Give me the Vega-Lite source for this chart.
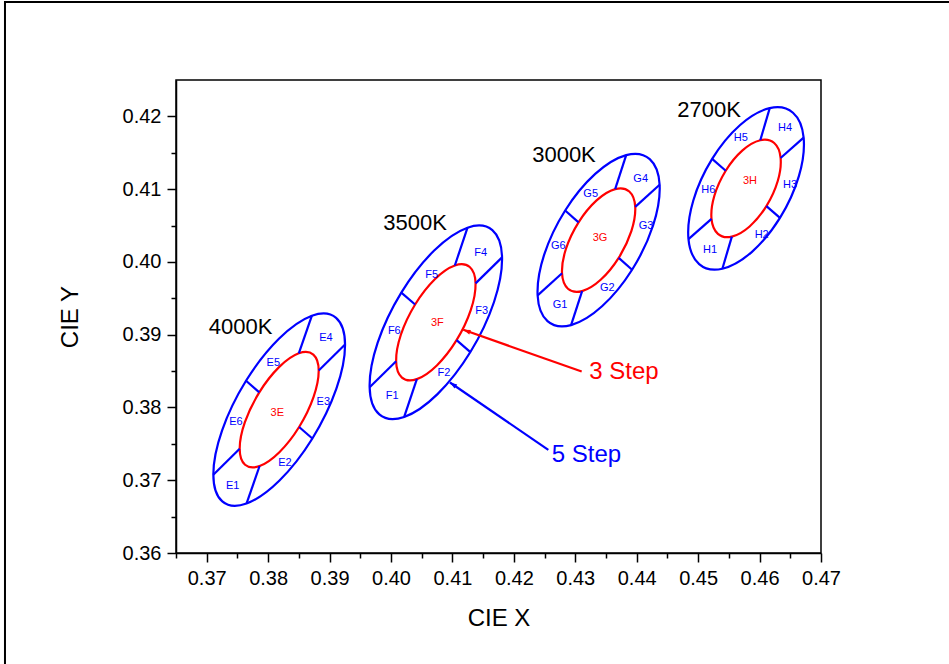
{
  "$schema": "https://vega.github.io/schema/vega-lite/v6.json",
  "autosize": {"type": "none"},
  "padding": {"left": 176, "top": 80, "right": 128, "bottom": 111},
  "width": 645,
  "height": 473,
  "background": "#ffffff",
  "datasets": {
    "ellipses": [
      {"id": "2700K-5", "g": "5", "i": 0, "x": 0.465437, "y": 0.420496},
      {"id": "2700K-5", "g": "5", "i": 1, "x": 0.461654, "y": 0.421131},
      {"id": "2700K-5", "g": "5", "i": 2, "x": 0.456837, "y": 0.418810},
      {"id": "2700K-5", "g": "5", "i": 3, "x": 0.452279, "y": 0.414155},
      {"id": "2700K-5", "g": "5", "i": 4, "x": 0.449201, "y": 0.408414},
      {"id": "2700K-5", "g": "5", "i": 5, "x": 0.448426, "y": 0.403125},
      {"id": "2700K-5", "g": "5", "i": 6, "x": 0.450163, "y": 0.399704},
      {"id": "2700K-5", "g": "5", "i": 7, "x": 0.453946, "y": 0.399069},
      {"id": "2700K-5", "g": "5", "i": 8, "x": 0.458763, "y": 0.401390},
      {"id": "2700K-5", "g": "5", "i": 9, "x": 0.463321, "y": 0.406045},
      {"id": "2700K-5", "g": "5", "i": 10, "x": 0.466399, "y": 0.411786},
      {"id": "2700K-5", "g": "5", "i": 11, "x": 0.467174, "y": 0.417075},
      {"id": "2700K-3", "g": "3", "i": 0, "x": 0.462382, "y": 0.416338},
      {"id": "2700K-3", "g": "3", "i": 1, "x": 0.460112, "y": 0.416719},
      {"id": "2700K-3", "g": "3", "i": 2, "x": 0.457223, "y": 0.415326},
      {"id": "2700K-3", "g": "3", "i": 3, "x": 0.454488, "y": 0.412533},
      {"id": "2700K-3", "g": "3", "i": 4, "x": 0.452641, "y": 0.409088},
      {"id": "2700K-3", "g": "3", "i": 5, "x": 0.452176, "y": 0.405915},
      {"id": "2700K-3", "g": "3", "i": 6, "x": 0.453218, "y": 0.403862},
      {"id": "2700K-3", "g": "3", "i": 7, "x": 0.455488, "y": 0.403481},
      {"id": "2700K-3", "g": "3", "i": 8, "x": 0.458377, "y": 0.404874},
      {"id": "2700K-3", "g": "3", "i": 9, "x": 0.461112, "y": 0.407667},
      {"id": "2700K-3", "g": "3", "i": 10, "x": 0.462959, "y": 0.411112},
      {"id": "2700K-3", "g": "3", "i": 11, "x": 0.463424, "y": 0.414285},
      {"id": "3000K-5", "g": "5", "i": 0, "x": 0.442122, "y": 0.414133},
      {"id": "3000K-5", "g": "5", "i": 1, "x": 0.438284, "y": 0.414677},
      {"id": "3000K-5", "g": "5", "i": 2, "x": 0.433245, "y": 0.412091},
      {"id": "3000K-5", "g": "5", "i": 3, "x": 0.428354, "y": 0.407071},
      {"id": "3000K-5", "g": "5", "i": 4, "x": 0.424923, "y": 0.400959},
      {"id": "3000K-5", "g": "5", "i": 5, "x": 0.423870, "y": 0.395395},
      {"id": "3000K-5", "g": "5", "i": 6, "x": 0.425478, "y": 0.391867},
      {"id": "3000K-5", "g": "5", "i": 7, "x": 0.429316, "y": 0.391323},
      {"id": "3000K-5", "g": "5", "i": 8, "x": 0.434355, "y": 0.393909},
      {"id": "3000K-5", "g": "5", "i": 9, "x": 0.439246, "y": 0.398929},
      {"id": "3000K-5", "g": "5", "i": 10, "x": 0.442677, "y": 0.405041},
      {"id": "3000K-5", "g": "5", "i": 11, "x": 0.443730, "y": 0.410605},
      {"id": "3000K-3", "g": "3", "i": 0, "x": 0.438793, "y": 0.409680},
      {"id": "3000K-3", "g": "3", "i": 1, "x": 0.436490, "y": 0.410007},
      {"id": "3000K-3", "g": "3", "i": 2, "x": 0.433467, "y": 0.408456},
      {"id": "3000K-3", "g": "3", "i": 3, "x": 0.430532, "y": 0.405443},
      {"id": "3000K-3", "g": "3", "i": 4, "x": 0.428473, "y": 0.401776},
      {"id": "3000K-3", "g": "3", "i": 5, "x": 0.427842, "y": 0.398437},
      {"id": "3000K-3", "g": "3", "i": 6, "x": 0.428807, "y": 0.396320},
      {"id": "3000K-3", "g": "3", "i": 7, "x": 0.431110, "y": 0.395993},
      {"id": "3000K-3", "g": "3", "i": 8, "x": 0.434133, "y": 0.397544},
      {"id": "3000K-3", "g": "3", "i": 9, "x": 0.437068, "y": 0.400557},
      {"id": "3000K-3", "g": "3", "i": 10, "x": 0.439127, "y": 0.404224},
      {"id": "3000K-3", "g": "3", "i": 11, "x": 0.439758, "y": 0.407563},
      {"id": "3500K-5", "g": "5", "i": 0, "x": 0.416499, "y": 0.404361},
      {"id": "3500K-5", "g": "5", "i": 1, "x": 0.412454, "y": 0.404707},
      {"id": "3500K-5", "g": "5", "i": 2, "x": 0.407030, "y": 0.401569},
      {"id": "3500K-5", "g": "5", "i": 3, "x": 0.401677, "y": 0.395785},
      {"id": "3500K-5", "g": "5", "i": 4, "x": 0.397830, "y": 0.388907},
      {"id": "3500K-5", "g": "5", "i": 5, "x": 0.396522, "y": 0.382779},
      {"id": "3500K-5", "g": "5", "i": 6, "x": 0.398101, "y": 0.379039},
      {"id": "3500K-5", "g": "5", "i": 7, "x": 0.402146, "y": 0.378693},
      {"id": "3500K-5", "g": "5", "i": 8, "x": 0.407570, "y": 0.381831},
      {"id": "3500K-5", "g": "5", "i": 9, "x": 0.412923, "y": 0.387615},
      {"id": "3500K-5", "g": "5", "i": 10, "x": 0.416770, "y": 0.394493},
      {"id": "3500K-5", "g": "5", "i": 11, "x": 0.418078, "y": 0.400621},
      {"id": "3500K-3", "g": "3", "i": 0, "x": 0.412819, "y": 0.399297},
      {"id": "3500K-3", "g": "3", "i": 1, "x": 0.410392, "y": 0.399505},
      {"id": "3500K-3", "g": "3", "i": 2, "x": 0.407138, "y": 0.397622},
      {"id": "3500K-3", "g": "3", "i": 3, "x": 0.403926, "y": 0.394151},
      {"id": "3500K-3", "g": "3", "i": 4, "x": 0.401618, "y": 0.390024},
      {"id": "3500K-3", "g": "3", "i": 5, "x": 0.400834, "y": 0.386347},
      {"id": "3500K-3", "g": "3", "i": 6, "x": 0.401781, "y": 0.384103},
      {"id": "3500K-3", "g": "3", "i": 7, "x": 0.404208, "y": 0.383895},
      {"id": "3500K-3", "g": "3", "i": 8, "x": 0.407462, "y": 0.385778},
      {"id": "3500K-3", "g": "3", "i": 9, "x": 0.410674, "y": 0.389249},
      {"id": "3500K-3", "g": "3", "i": 10, "x": 0.412982, "y": 0.393376},
      {"id": "3500K-3", "g": "3", "i": 11, "x": 0.413766, "y": 0.397053},
      {"id": "4000K-5", "g": "5", "i": 0, "x": 0.391061, "y": 0.392316},
      {"id": "4000K-5", "g": "5", "i": 1, "x": 0.387120, "y": 0.392607},
      {"id": "4000K-5", "g": "5", "i": 2, "x": 0.381753, "y": 0.389442},
      {"id": "4000K-5", "g": "5", "i": 3, "x": 0.376399, "y": 0.383665},
      {"id": "4000K-5", "g": "5", "i": 4, "x": 0.372493, "y": 0.376826},
      {"id": "4000K-5", "g": "5", "i": 5, "x": 0.371080, "y": 0.370757},
      {"id": "4000K-5", "g": "5", "i": 6, "x": 0.372539, "y": 0.367084},
      {"id": "4000K-5", "g": "5", "i": 7, "x": 0.376480, "y": 0.366793},
      {"id": "4000K-5", "g": "5", "i": 8, "x": 0.381847, "y": 0.369958},
      {"id": "4000K-5", "g": "5", "i": 9, "x": 0.387201, "y": 0.375735},
      {"id": "4000K-5", "g": "5", "i": 10, "x": 0.391107, "y": 0.382574},
      {"id": "4000K-5", "g": "5", "i": 11, "x": 0.392520, "y": 0.388643},
      {"id": "4000K-3", "g": "3", "i": 0, "x": 0.387357, "y": 0.387270},
      {"id": "4000K-3", "g": "3", "i": 1, "x": 0.384992, "y": 0.387445},
      {"id": "4000K-3", "g": "3", "i": 2, "x": 0.381772, "y": 0.385545},
      {"id": "4000K-3", "g": "3", "i": 3, "x": 0.378559, "y": 0.382079},
      {"id": "4000K-3", "g": "3", "i": 4, "x": 0.376216, "y": 0.377975},
      {"id": "4000K-3", "g": "3", "i": 5, "x": 0.375368, "y": 0.374333},
      {"id": "4000K-3", "g": "3", "i": 6, "x": 0.376243, "y": 0.372130},
      {"id": "4000K-3", "g": "3", "i": 7, "x": 0.378608, "y": 0.371955},
      {"id": "4000K-3", "g": "3", "i": 8, "x": 0.381828, "y": 0.373855},
      {"id": "4000K-3", "g": "3", "i": 9, "x": 0.385041, "y": 0.377321},
      {"id": "4000K-3", "g": "3", "i": 10, "x": 0.387384, "y": 0.381425},
      {"id": "4000K-3", "g": "3", "i": 11, "x": 0.388232, "y": 0.385067}
    ],
    "dividers": [
      {"c": "2700K", "x": 0.460112, "y": 0.416719, "x2": 0.461654, "y2": 0.421131},
      {"c": "2700K", "x": 0.454488, "y": 0.412533, "x2": 0.452279, "y2": 0.414155},
      {"c": "2700K", "x": 0.452176, "y": 0.405915, "x2": 0.448426, "y2": 0.403125},
      {"c": "2700K", "x": 0.455488, "y": 0.403481, "x2": 0.453946, "y2": 0.399069},
      {"c": "2700K", "x": 0.461112, "y": 0.407667, "x2": 0.463321, "y2": 0.406045},
      {"c": "2700K", "x": 0.463424, "y": 0.414285, "x2": 0.467174, "y2": 0.417075},
      {"c": "3000K", "x": 0.436490, "y": 0.410007, "x2": 0.438284, "y2": 0.414677},
      {"c": "3000K", "x": 0.430532, "y": 0.405443, "x2": 0.428354, "y2": 0.407071},
      {"c": "3000K", "x": 0.427842, "y": 0.398437, "x2": 0.423870, "y2": 0.395395},
      {"c": "3000K", "x": 0.431110, "y": 0.395993, "x2": 0.429316, "y2": 0.391323},
      {"c": "3000K", "x": 0.437068, "y": 0.400557, "x2": 0.439246, "y2": 0.398929},
      {"c": "3000K", "x": 0.439758, "y": 0.407563, "x2": 0.443730, "y2": 0.410605},
      {"c": "3500K", "x": 0.410392, "y": 0.399505, "x2": 0.412454, "y2": 0.404707},
      {"c": "3500K", "x": 0.403926, "y": 0.394151, "x2": 0.401677, "y2": 0.395785},
      {"c": "3500K", "x": 0.400834, "y": 0.386347, "x2": 0.396522, "y2": 0.382779},
      {"c": "3500K", "x": 0.404208, "y": 0.383895, "x2": 0.402146, "y2": 0.378693},
      {"c": "3500K", "x": 0.410674, "y": 0.389249, "x2": 0.412923, "y2": 0.387615},
      {"c": "3500K", "x": 0.413766, "y": 0.397053, "x2": 0.418078, "y2": 0.400621},
      {"c": "4000K", "x": 0.384992, "y": 0.387445, "x2": 0.387120, "y2": 0.392607},
      {"c": "4000K", "x": 0.378559, "y": 0.382079, "x2": 0.376399, "y2": 0.383665},
      {"c": "4000K", "x": 0.375368, "y": 0.374333, "x2": 0.371080, "y2": 0.370757},
      {"c": "4000K", "x": 0.378608, "y": 0.371955, "x2": 0.376480, "y2": 0.366793},
      {"c": "4000K", "x": 0.385041, "y": 0.377321, "x2": 0.387201, "y2": 0.375735},
      {"c": "4000K", "x": 0.388232, "y": 0.385067, "x2": 0.392520, "y2": 0.388643}
    ],
    "zones": [
      {"t": "E4", "g": "5", "x": 0.38942, "y": 0.38953},
      {"t": "E5", "g": "5", "x": 0.38084, "y": 0.38609},
      {"t": "E3", "g": "5", "x": 0.38898, "y": 0.38081},
      {"t": "E6", "g": "5", "x": 0.37477, "y": 0.37806},
      {"t": "E2", "g": "5", "x": 0.38274, "y": 0.37234},
      {"t": "E1", "g": "5", "x": 0.37423, "y": 0.36922},
      {"t": "3E", "g": "3", "x": 0.38149, "y": 0.37930},
      {"t": "F4", "g": "5", "x": 0.41460, "y": 0.40122},
      {"t": "F5", "g": "5", "x": 0.40662, "y": 0.39824},
      {"t": "F3", "g": "5", "x": 0.41476, "y": 0.39319},
      {"t": "F6", "g": "5", "x": 0.40054, "y": 0.39044},
      {"t": "F2", "g": "5", "x": 0.40863, "y": 0.38472},
      {"t": "F1", "g": "5", "x": 0.40021, "y": 0.38164},
      {"t": "3F", "g": "3", "x": 0.40754, "y": 0.39160},
      {"t": "G4", "g": "5", "x": 0.44065, "y": 0.41140},
      {"t": "G5", "g": "5", "x": 0.43251, "y": 0.40938},
      {"t": "G3", "g": "5", "x": 0.44151, "y": 0.40498},
      {"t": "G6", "g": "5", "x": 0.42723, "y": 0.40223},
      {"t": "G2", "g": "5", "x": 0.43521, "y": 0.39641},
      {"t": "G1", "g": "5", "x": 0.42751, "y": 0.39402},
      {"t": "3G", "g": "3", "x": 0.43402, "y": 0.40329},
      {"t": "H4", "g": "5", "x": 0.46414, "y": 0.41842},
      {"t": "H5", "g": "5", "x": 0.45693, "y": 0.41704},
      {"t": "H3", "g": "5", "x": 0.46495, "y": 0.41062},
      {"t": "H6", "g": "5", "x": 0.45165, "y": 0.40993},
      {"t": "H2", "g": "5", "x": 0.46034, "y": 0.40365},
      {"t": "H1", "g": "5", "x": 0.45193, "y": 0.40168},
      {"t": "3H", "g": "3", "x": 0.45844, "y": 0.41107}
    ],
    "ccts": [
      {"t": "4000K", "x": 0.37550, "y": 0.39105},
      {"t": "3500K", "x": 0.40391, "y": 0.40535},
      {"t": "3000K", "x": 0.42816, "y": 0.41475},
      {"t": "2700K", "x": 0.45177, "y": 0.42084}
    ],
    "arrows": [
      {"t": "3 Step", "g": "3", "sx": 0.43104, "sy": 0.38494, "tx": 0.41177, "ty": 0.39067, "lx": 0.43228, "ly": 0.38494},
      {"t": "5 Step", "g": "5", "sx": 0.42561, "sy": 0.37417, "tx": 0.40960, "ty": 0.38343, "lx": 0.42616, "ly": 0.37348}
    ]
  },
  "layer": [
    {
      "data": {"values": [{}]},
      "mark": {"type": "rect", "filled": false, "stroke": "#000000", "strokeWidth": 2, "clip": false},
      "encoding": {
        "x": {"datum": 0.33716, "type": "quantitative", "scale": {"domain": [0.365, 0.47], "nice": false, "zero": false}, "axis": null},
        "x2": {"datum": 0.52},
        "y": {"datum": 0.43572, "type": "quantitative", "scale": {"domain": [0.36, 0.425], "nice": false, "zero": false}, "axis": null},
        "y2": {"datum": 0.33}
      }
    },
    {
      "data": {"name": "ellipses"},
      "mark": {"type": "line", "interpolate": "cardinal-closed", "strokeWidth": 2.2},
      "encoding": {
        "x": {"field": "x", "type": "quantitative", "scale": {"domain": [0.365, 0.47], "nice": false, "zero": false},
          "axis": {"title": "CIE X", "values": [0.37, 0.38, 0.39, 0.40, 0.41, 0.42, 0.43, 0.44, 0.45, 0.46, 0.47], "format": ".2f", "labelFlush": false, "labelOverlap": false, "tickSize": 9, "labelPadding": 6, "titlePadding": 18, "orient": "bottom"}},
        "y": {"field": "y", "type": "quantitative", "scale": {"domain": [0.36, 0.425], "nice": false, "zero": false},
          "axis": {"title": "CIE Y", "values": [0.36, 0.37, 0.38, 0.39, 0.40, 0.41, 0.42], "format": ".2f", "labelFlush": false, "labelOverlap": false, "tickSize": 9, "labelPadding": 6, "titlePadding": 40, "orient": "left"}},
        "order": {"field": "i", "type": "quantitative"},
        "detail": {"field": "id", "type": "nominal"},
        "color": {"field": "g", "type": "nominal", "scale": {"domain": ["5", "3"], "range": ["#0000ff", "#ff0000"]}, "legend": null}
      }
    },
    {
      "data": {"name": "dividers"},
      "mark": {"type": "rule", "color": "#0000ff", "strokeWidth": 2.2},
      "encoding": {
        "x": {"field": "x", "type": "quantitative", "scale": {"domain": [0.365, 0.47], "nice": false, "zero": false},
          "axis": {"title": null, "values": [0.365, 0.375, 0.385, 0.395, 0.405, 0.415, 0.425, 0.435, 0.445, 0.455, 0.465], "labels": false, "domain": false, "tickSize": 5, "orient": "bottom"}},
        "y": {"field": "y", "type": "quantitative", "scale": {"domain": [0.36, 0.425], "nice": false, "zero": false},
          "axis": {"title": null, "values": [0.365, 0.375, 0.385, 0.395, 0.405, 0.415], "labels": false, "domain": false, "tickSize": 5, "orient": "left"}},
        "x2": {"field": "x2"},
        "y2": {"field": "y2"}
      }
    },
    {
      "data": {"name": "zones"},
      "mark": {"type": "text", "font": "Liberation Sans", "fontSize": 11, "align": "center", "baseline": "middle"},
      "encoding": {
        "x": {"field": "x", "type": "quantitative", "scale": {"domain": [0.365, 0.47], "nice": false, "zero": false}, "axis": null},
        "y": {"field": "y", "type": "quantitative", "scale": {"domain": [0.36, 0.425], "nice": false, "zero": false}, "axis": null},
        "text": {"field": "t"},
        "color": {"field": "g", "type": "nominal", "scale": {"domain": ["5", "3"], "range": ["#0000ff", "#ff0000"]}, "legend": null}
      }
    },
    {
      "data": {"name": "ccts"},
      "mark": {"type": "text", "font": "Liberation Sans", "fontSize": 22, "align": "center", "baseline": "middle", "color": "#000000"},
      "encoding": {
        "x": {"field": "x", "type": "quantitative", "scale": {"domain": [0.365, 0.47], "nice": false, "zero": false}, "axis": null},
        "y": {"field": "y", "type": "quantitative", "scale": {"domain": [0.36, 0.425], "nice": false, "zero": false}, "axis": null},
        "text": {"field": "t"}
      }
    },
    {
      "data": {"name": "arrows"},
      "mark": {"type": "rule", "strokeWidth": 2.2},
      "encoding": {
        "x": {"field": "sx", "type": "quantitative", "scale": {"domain": [0.365, 0.47], "nice": false, "zero": false}, "axis": null},
        "y": {"field": "sy", "type": "quantitative", "scale": {"domain": [0.36, 0.425], "nice": false, "zero": false}, "axis": null},
        "x2": {"field": "tx"},
        "y2": {"field": "ty"},
        "color": {"field": "g", "type": "nominal", "scale": {"domain": ["5", "3"], "range": ["#0000ff", "#ff0000"]}, "legend": null}
      }
    },
    {
      "data": {"name": "arrows"},
      "transform": [{"filter": "datum.g === '3'"}],
      "mark": {"type": "point", "shape": "M0,0L-0.4,1.2L0.4,1.2Z", "filled": true, "opacity": 1, "size": 144, "angle": 289.4, "color": "#ff0000"},
      "encoding": {
        "x": {"field": "tx", "type": "quantitative", "scale": {"domain": [0.365, 0.47], "nice": false, "zero": false}, "axis": null},
        "y": {"field": "ty", "type": "quantitative", "scale": {"domain": [0.36, 0.425], "nice": false, "zero": false}, "axis": null}
      }
    },
    {
      "data": {"name": "arrows"},
      "transform": [{"filter": "datum.g === '5'"}],
      "mark": {"type": "point", "shape": "M0,0L-0.4,1.2L0.4,1.2Z", "filled": true, "opacity": 1, "size": 144, "angle": 304.4, "color": "#0000ff"},
      "encoding": {
        "x": {"field": "tx", "type": "quantitative", "scale": {"domain": [0.365, 0.47], "nice": false, "zero": false}, "axis": null},
        "y": {"field": "ty", "type": "quantitative", "scale": {"domain": [0.36, 0.425], "nice": false, "zero": false}, "axis": null}
      }
    },
    {
      "data": {"name": "arrows"},
      "mark": {"type": "text", "font": "Liberation Sans", "fontSize": 24, "align": "left", "baseline": "middle"},
      "encoding": {
        "x": {"field": "lx", "type": "quantitative", "scale": {"domain": [0.365, 0.47], "nice": false, "zero": false}, "axis": null},
        "y": {"field": "ly", "type": "quantitative", "scale": {"domain": [0.36, 0.425], "nice": false, "zero": false}, "axis": null},
        "text": {"field": "t"},
        "color": {"field": "g", "type": "nominal", "scale": {"domain": ["5", "3"], "range": ["#0000ff", "#ff0000"]}, "legend": null}
      }
    }
  ],
  "resolve": {"axis": {"x": "independent", "y": "independent"}},
  "config": {
    "view": {"stroke": "#000000", "strokeWidth": 1.5},
    "axis": {
      "grid": false,
      "domainColor": "#000000",
      "domainWidth": 1.5,
      "tickColor": "#000000",
      "tickWidth": 1.5,
      "labelColor": "#000000",
      "labelFont": "Liberation Sans",
      "labelFontSize": 20,
      "titleColor": "#000000",
      "titleFont": "Liberation Sans",
      "titleFontSize": 24,
      "titleFontWeight": "normal"
    }
  }
}
